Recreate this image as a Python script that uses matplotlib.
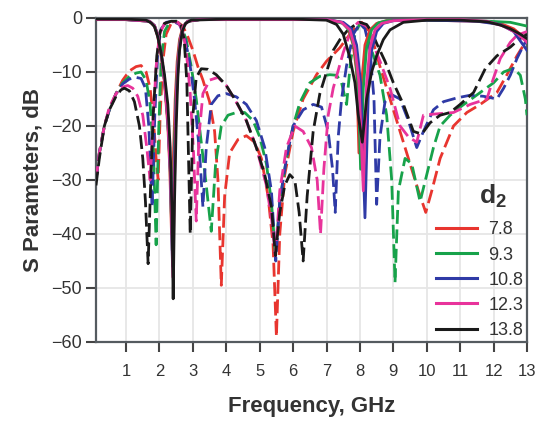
import matplotlib
matplotlib.use("Agg")
import matplotlib.pyplot as plt
from matplotlib.lines import Line2D

plt.rcParams['font.family'] = ['Liberation Sans', 'DejaVu Sans']
plt.rcParams['mathtext.fontset'] = 'custom'
plt.rcParams['mathtext.rm'] = 'Liberation Sans'
plt.rcParams['mathtext.bf'] = 'Liberation Sans:bold'

# ---------------- data ----------------
D2_LABELS = ['7.8', '9.3', '10.8', '12.3', '13.8']
COLORS = ['#e8352f', '#17a24a', '#2f3aa6', '#e8339b', '#1a1a1a']

X_TICKS = list(range(1, 14))
Y_TICKS = [0, -10, -20, -30, -40, -50, -60]

# S11 (dashed)
RED_S11_F = [0.1,0.2,0.35,0.5,0.7,0.9,1.1,1.3,1.45,1.6,1.72,1.82,1.9,1.96,2.02,2.1,2.2,2.35,2.55,2.7,2.85,3.0,3.15,3.3,3.5,3.65,3.75,3.85,3.95,4.1,4.35,4.6,4.85,5.05,5.25,5.4,5.5,5.6,5.75,6.0,6.3,6.7,7.0,7.4,7.7,7.9,8.05,8.2,8.4,8.6,8.9,9.2,9.5,9.75,9.97,10.15,10.4,10.8,11.2,11.6,12.1,12.4,12.7,12.9,13.0]
RED_S11_DB = [-30,-25,-20,-17,-14,-11.5,-9.8,-9,-8.8,-10,-13,-19,-26,-30,-18,-8,-3,-1,-0.8,-1.5,-3.5,-6,-9,-11.5,-15.5,-21,-30,-49.5,-33,-25,-22.5,-21.8,-23,-26,-33,-42,-59,-40,-29,-21,-15,-10.5,-8,-5.5,-3,-1.5,-0.8,-1.8,-4.5,-9,-15,-21,-27,-32,-36,-32,-26,-20,-17.5,-16,-13.8,-10.5,-7,-5,-4]

GREEN_S11_F = [0.1,0.2,0.35,0.5,0.7,0.9,1.1,1.3,1.45,1.6,1.72,1.82,1.9,1.97,2.05,2.15,2.3,2.5,2.65,2.8,2.95,3.1,3.25,3.4,3.55,3.68,3.85,4.05,4.3,4.55,4.8,5.0,5.2,5.35,5.47,5.6,5.8,6.0,6.2,6.5,6.8,7.1,7.3,7.45,7.6,7.72,7.85,8.0,8.15,8.35,8.6,8.8,8.95,9.05,9.15,9.35,9.55,9.8,10.0,10.2,10.4,10.7,11.0,11.6,12.0,12.3,12.6,12.8,12.95,13.0]
GREEN_S11_DB = [-30,-25,-20,-17,-14,-12,-10.8,-10.2,-10,-11.5,-16,-25,-42,-22,-8,-2.5,-0.8,-0.6,-1.5,-4,-9,-15,-23,-31,-39.5,-27,-20,-18,-17.5,-17.5,-19,-22,-27,-34,-44,-34,-26,-20,-15.7,-12,-10.8,-10.5,-10.6,-12,-16,-8,-3,-1,-2,-6,-10.6,-18,-30,-49,-32,-26,-27,-34,-29,-24,-20,-18,-16.5,-13.8,-12,-10,-9.3,-10.6,-15,-18]

BLUE_S11_F = [0.1,0.2,0.35,0.5,0.7,0.9,1.1,1.3,1.45,1.58,1.68,1.78,1.86,1.95,2.05,2.2,2.4,2.6,2.75,2.9,3.05,3.2,3.3,3.4,3.55,3.75,4.0,4.3,4.6,4.9,5.15,5.35,5.48,5.6,5.8,6.0,6.3,6.6,6.85,7.05,7.18,7.26,7.35,7.45,7.6,7.8,8.0,8.15,8.3,8.42,8.5,8.6,8.75,8.95,9.2,9.45,9.7,9.9,10.2,10.5,10.9,11.3,11.7,12.1,12.3,12.5,12.7,12.9,13.0]
BLUE_S11_DB = [-30,-25,-20,-17,-14,-12.2,-11.3,-11,-11.2,-13,-20,-35,-18,-6,-2,-0.8,-0.6,-1.2,-3.5,-8,-15,-25,-35,-24,-16,-14.4,-14,-14.6,-16,-19,-24,-32,-45,-34,-26,-20,-17,-16,-16.5,-21,-28,-36,-22,-15,-8.8,-3,-1,-2,-6,-15,-34.5,-22,-15.5,-14.2,-15,-19,-24,-21,-17,-15.5,-14.8,-14.3,-14.5,-15,-13,-10.6,-7.5,-5,-4]

PINK_S11_F = [0.1,0.2,0.35,0.5,0.7,0.9,1.05,1.2,1.35,1.5,1.62,1.72,1.8,1.9,2.0,2.15,2.35,2.55,2.68,2.8,2.92,3.02,3.1,3.18,3.3,3.5,3.75,4.0,4.3,4.6,4.9,5.2,5.35,5.47,5.6,5.8,6.05,6.3,6.55,6.72,6.82,6.92,7.05,7.2,7.5,7.75,7.95,8.2,8.4,8.6,8.9,9.2,9.45,9.7,9.9,10.2,10.8,11.3,11.8,11.95,12.2,12.5,12.7,13.0]
PINK_S11_DB = [-30,-25,-20,-16.5,-14,-12.8,-12.5,-13,-14.5,-18,-24,-30,-20,-9,-3,-1,-0.6,-0.8,-2,-6,-14,-25,-37.6,-22,-14,-11.5,-11,-12.5,-15.6,-19,-24,-31,-37,-44,-32,-24,-20,-21,-24,-30,-40,-28,-18,-13,-6.4,-2,-0.8,-1.5,-5,-8,-13,-20,-22,-23,-18,-17.8,-17.5,-16,-15,-12,-7.5,-4.5,-3.2,-2.5]

BLACK_S11_F = [0.1,0.2,0.35,0.5,0.7,0.85,0.95,1.1,1.25,1.4,1.5,1.58,1.66,1.74,1.82,1.92,2.02,2.15,2.35,2.55,2.65,2.74,2.82,2.92,3.0,3.1,3.25,3.45,3.7,4.0,4.3,4.6,4.9,5.15,5.35,5.47,5.6,5.75,5.9,6.05,6.18,6.3,6.42,6.6,6.8,7.0,7.2,7.4,7.6,7.8,8.0,8.2,8.35,8.5,8.75,9.0,9.3,9.6,9.85,10.1,10.4,10.7,11.0,11.4,11.75,12.1,12.5,12.75,13.0]
BLACK_S11_DB = [-31,-26,-20,-17,-14.5,-13.3,-13,-13.5,-15.5,-20,-26,-34,-45.5,-30,-17,-7,-2.5,-1,-0.6,-0.6,-1.5,-4,-12,-40,-18,-11,-9.4,-9.5,-10.5,-12.5,-15.5,-19,-24,-29,-35,-44,-36,-31,-29,-30,-36,-45,-33,-21,-14,-10,-6,-4,-2.5,-1.5,-0.8,-1.2,-2.5,-4.7,-8,-12,-16,-21,-21.5,-19.4,-18,-17.5,-16,-13.8,-9.4,-7,-5.4,-4,-3]

# S21 (solid)
RED_S21_F = [0.1,1.0,1.7,1.85,1.95,2.05,2.15,2.25,2.31,2.36,2.41,2.47,2.53,2.6,2.7,2.85,3.2,7.0,7.45,7.65,7.8,7.9,7.97,8.05,8.15,8.3,8.5,8.8,10.0,11.5,12.2,12.6,13.0]
RED_S21_DB = [-0.3,-0.3,-0.6,-1.5,-3.5,-7,-12,-20,-28,-40,-27,-15,-8,-4,-1.6,-0.6,-0.3,-0.3,-0.8,-2,-5,-10,-25,-12,-5,-2.2,-1,-0.5,-0.4,-0.6,-1,-2,-4]

GREEN_S21_F = [0.1,1.0,1.7,1.85,1.95,2.05,2.15,2.25,2.32,2.38,2.43,2.49,2.55,2.62,2.72,2.85,3.2,7.0,7.5,7.7,7.85,7.95,8.02,8.1,8.2,8.35,8.55,8.8,10.0,11.5,12.5,13.0]
GREEN_S21_DB = [-0.3,-0.3,-0.6,-1.4,-3.2,-6.5,-11.5,-19,-28,-43,-28,-15,-8,-3.8,-1.5,-0.6,-0.3,-0.3,-1,-2.5,-6,-13,-28,-13,-5.5,-2.2,-0.9,-0.5,-0.4,-0.5,-0.8,-1.5]

BLUE_S21_F = [0.1,1.0,1.7,1.85,1.95,2.05,2.15,2.25,2.33,2.39,2.44,2.5,2.56,2.63,2.72,2.85,3.2,7.0,7.5,7.75,7.9,8.02,8.15,8.25,8.35,8.5,8.7,9.0,10.0,11.5,12.2,12.6,13.0]
BLUE_S21_DB = [-0.3,-0.3,-0.6,-1.4,-3.2,-6.5,-11.5,-19,-29,-46,-29,-15,-8,-3.8,-1.5,-0.6,-0.3,-0.3,-0.8,-2,-5,-12,-37,-14,-6,-2.5,-1,-0.5,-0.4,-0.6,-1.2,-2.5,-6]

PINK_S21_F = [0.1,1.0,1.7,1.85,1.95,2.05,2.15,2.25,2.33,2.40,2.45,2.5,2.56,2.63,2.72,2.85,3.2,7.0,7.45,7.7,7.85,7.97,8.1,8.2,8.3,8.45,8.65,9.0,10.0,11.0,11.8,12.3,12.7,13.0]
PINK_S21_DB = [-0.3,-0.3,-0.6,-1.4,-3.2,-6.5,-11.5,-19,-29,-48,-30,-16,-8,-3.8,-1.5,-0.6,-0.3,-0.3,-0.8,-2.2,-5.5,-12,-32,-12,-5.5,-2.2,-1,-0.5,-0.3,-0.3,-0.6,-1.5,-2.8,-4.5]

BLACK_S21_F = [0.1,1.0,1.6,1.75,1.85,1.95,2.05,2.15,2.25,2.32,2.37,2.41,2.45,2.5,2.55,2.6,2.68,2.78,2.95,4.0,6.0,7.0,7.3,7.5,7.7,7.85,7.95,8.07,8.2,8.35,8.5,8.7,8.9,9.3,10.0,11.0,11.8,12.2,12.5,12.8,13.0]
BLACK_S21_DB = [-0.2,-0.2,-0.4,-0.9,-1.6,-3.5,-6.5,-10.5,-16,-24,-35,-52,-34,-20,-11,-6,-2.5,-1,-0.4,-0.2,-0.2,-0.4,-1.2,-3,-7.4,-12,-18,-23,-15,-10,-7,-4,-2.2,-0.8,-0.4,-0.4,-0.7,-1.3,-2,-3,-3.8]

S11 = [(RED_S11_F, RED_S11_DB), (GREEN_S11_F, GREEN_S11_DB), (BLUE_S11_F, BLUE_S11_DB),
       (PINK_S11_F, PINK_S11_DB), (BLACK_S11_F, BLACK_S11_DB)]
S21 = [(RED_S21_F, RED_S21_DB), (GREEN_S21_F, GREEN_S21_DB), (BLUE_S21_F, BLUE_S21_DB),
       (PINK_S21_F, PINK_S21_DB), (BLACK_S21_F, BLACK_S21_DB)]

# ---------------- plot ----------------
fig = plt.figure(figsize=(5.45, 4.25), dpi=100)
ax = fig.add_axes([96/545, 1-342/425, (527-96)/545, (342-18)/425])

for (f, db), c in zip(S11, COLORS):
    ax.plot(f, db, color=c, lw=2.0, linestyle=(0, (5, 2)), zorder=3)
for (f, db), c in zip(S21, COLORS):
    ax.plot(f, db, color=c, lw=2.0, linestyle='-', zorder=4)

ax.set_xlim(0.1, 13)
ax.set_ylim(-60, 0)
ax.set_xticks(X_TICKS)
ax.set_yticks(Y_TICKS)
ax.grid(True, color='#e6e6e6', lw=1.3, zorder=0)
ax.set_axisbelow(True)
for s in ax.spines.values():
    s.set_color('#555b60')
    s.set_linewidth(1.6)
ax.tick_params(axis='both', direction='out', length=7, width=1.5, color='#444444',
               labelcolor='#333333')
ax.tick_params(axis='y', labelsize=13, pad=3)
ax.tick_params(axis='x', labelsize=12, pad=9)
ax.set_xlabel('Frequency, GHz', fontsize=16, fontweight='bold', color='#333333', labelpad=12)
ax.set_ylabel('S Parameters, dB', fontsize=16, fontweight='bold', color='#333333', labelpad=6)

handles = [Line2D([], [], color=c, lw=2.2) for c in COLORS]
leg = ax.legend(handles, D2_LABELS, loc='lower right', bbox_to_anchor=(1.025, -0.035),
                frameon=False, fontsize=13, handlelength=2.3, handletextpad=0.6,
                labelspacing=0.45, borderaxespad=0.4)
for t in leg.get_texts():
    t.set_color('#333333')
ax.text(0.921, 0.45, r'$\mathbf{d}_{\mathbf{2}}$', transform=ax.transAxes,
        fontsize=19, ha='center', va='center', color='#333333')

fig.savefig('out.png', dpi=100)
